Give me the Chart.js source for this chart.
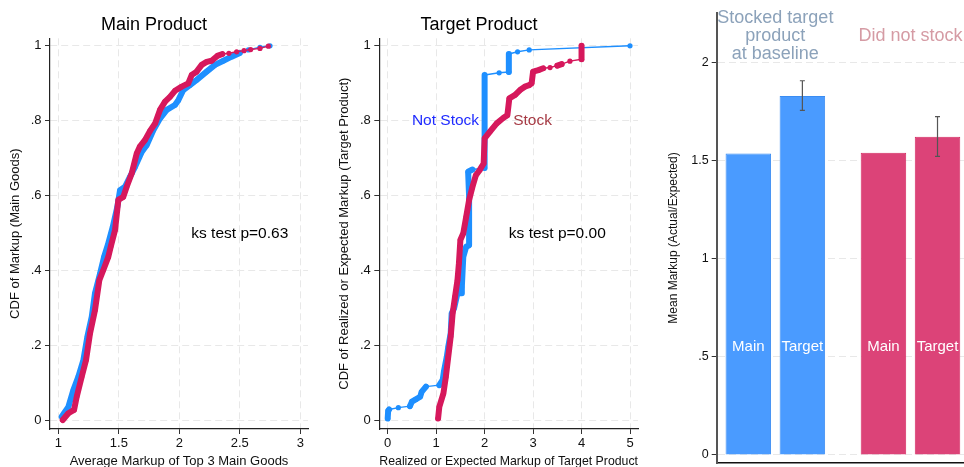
<!DOCTYPE html>
<html><head><meta charset="utf-8">
<script src="https://cdn.jsdelivr.net/npm/chart.js@4.4.1/dist/chart.umd.min.js"></script>
<style>
html,body{margin:0;padding:0;background:#fff;overflow:hidden;width:964px;height:467px;position:relative;}
canvas{position:absolute;top:0;}
</style></head><body>
<canvas id="c1" style="left:0px" width="320" height="480"></canvas>
<canvas id="c2" style="left:320px" width="330" height="480"></canvas>
<canvas id="c3" style="left:650px" width="314" height="480"></canvas>
<script>
// ---------- DATA ----------
// Panel 1: CDF of markup, main goods
const mainNotStock = [[1.028,0.011],[1.047,0.02],[1.083,0.037],[1.124,0.082],[1.165,0.117],[1.207,0.162],[1.24,0.224],[1.276,0.277],[1.303,0.34],[1.345,0.393],[1.378,0.437],[1.413,0.473],[1.45,0.517],[1.488,0.571],[1.51,0.615],[1.551,0.624],[1.593,0.651],[1.634,0.677],[1.689,0.717],[1.73,0.735],[1.785,0.775],[1.84,0.806],[1.896,0.829],[1.964,0.842],[1.992,0.855],[2.033,0.882],[2.088,0.895],[2.144,0.909],[2.226,0.931],[2.295,0.949],[2.364,0.96],[2.433,0.971],[2.50,0.981],[2.571,0.989],[2.667,0.996],[2.75,1.0]];
const mainStock = [[1.036,0.002],[1.083,0.02],[1.13,0.029],[1.152,0.064],[1.193,0.117],[1.229,0.162],[1.262,0.233],[1.303,0.295],[1.339,0.375],[1.372,0.402],[1.413,0.437],[1.433,0.464],[1.469,0.509],[1.496,0.589],[1.537,0.597],[1.565,0.624],[1.607,0.66],[1.648,0.713],[1.675,0.732],[1.717,0.749],[1.758,0.773],[1.8,0.793],[1.84,0.829],[1.882,0.851],[1.923,0.864],[1.964,0.88],[2.02,0.891],[2.074,0.9],[2.102,0.922],[2.143,0.931],[2.185,0.949],[2.226,0.957],[2.267,0.96],[2.314,0.973],[2.356,0.978],[2.41,0.98],[2.474,0.984],[2.535,0.987],[2.59,0.99],[2.667,0.993],[2.736,0.999]];
// Panel 2: CDF of markup, target product
const targetNotStock = [[0,0.006],[0.01,0.027],[0.03,0.03],[0.22,0.035],[0.46,0.039],[0.5,0.051],[0.58,0.057],[0.67,0.064],[0.7,0.077],[0.79,0.091],[1.065,0.095],[1.135,0.109],[1.16,0.131],[1.22,0.171],[1.25,0.197],[1.3,0.233],[1.32,0.286],[1.37,0.3],[1.44,0.34],[1.52,0.34],[1.53,0.357],[1.56,0.437],[1.62,0.464],[1.68,0.468],[1.68,0.597],[1.66,0.664],[1.75,0.67],[2.0,0.674],[2.0,0.922],[2.3,0.928],[2.5,0.93],[2.5,0.978],[2.68,0.984],[2.92,0.989],[5.0,1.0]];
const targetStock = [[1.04,0.006],[1.065,0.037],[1.15,0.073],[1.2,0.117],[1.25,0.171],[1.3,0.224],[1.34,0.286],[1.39,0.331],[1.44,0.375],[1.47,0.42],[1.5,0.482],[1.56,0.5],[1.62,0.544],[1.68,0.589],[1.75,0.624],[1.82,0.655],[1.9,0.669],[1.98,0.686],[2.0,0.753],[2.11,0.771],[2.25,0.793],[2.39,0.808],[2.47,0.815],[2.51,0.86],[2.63,0.869],[2.73,0.882],[2.83,0.891],[2.92,0.895],[2.97,0.9],[3.0,0.931],[3.11,0.935],[3.21,0.94],[3.35,0.942],[3.5,0.947],[3.59,0.951],[3.76,0.959],[4.0,0.964],[4.0,1.0]];
const cdfYTicks = [0, 0.2, 0.4, 0.6, 0.8, 1];
const cdfYLabels = ['0', '.2', '.4', '.6', '.8', '1'];
const mainXTicks = [1, 1.5, 2, 2.5, 3];
const mainXLabels = ['1', '1.5', '2', '2.5', '3'];
const targetXTicks = [0, 1, 2, 3, 4, 5];
const targetXLabels = ['0', '1', '2', '3', '4', '5'];
// Panel 3: mean markup bars
const barGroups = [['Stocked target', 'product', 'at baseline'], ['Did not stock']];
const barLabels = ['Main', 'Target', 'Main', 'Target'];
const barGroupOf = [0, 0, 1, 1];
const barSlots = [1, 2, 3.5, 4.5];
const barMeans = [1.536, 1.828, 1.539, 1.621];
const barCILow = [null, 1.755, null, 1.521];
const barCIHigh = [null, 1.906, null, 1.723];
const barYTicks = [0, 0.5, 1, 1.5, 2];
const barYLabels = ['0', '.5', '1', '1.5', '2'];

// ---------- STYLE ----------
const FONT = '"Liberation Sans", Arial, Helvetica, sans-serif';
Chart.defaults.font.family = FONT;
Chart.defaults.color = '#111';
const BLUE = '#1e8fff';
const RED = '#d6185c';
const GRID = '#e8e8e8';

function notes(items) {
  return {
    id: 'notes',
    afterDatasetsDraw(chart) {
      const {ctx} = chart; const xs = chart.scales.x, ys = chart.scales.y;
      items.forEach(n => {
        ctx.save();
        ctx.font = n.font; ctx.fillStyle = n.color;
        ctx.textAlign = 'center'; ctx.textBaseline = 'middle';
        const lines = Array.isArray(n.text) ? n.text : [n.text];
        const px = xs.getPixelForValue(n.x), py = ys.getPixelForValue(n.y);
        lines.forEach((t, i) => ctx.fillText(t, px, py + (i - (lines.length - 1) / 2) * (n.lh || 0)));
        ctx.restore();
      });
    }
  };
}

function segWidth(ctx) {
  const dx = Math.abs(ctx.p1.x - ctx.p0.x), dy = Math.abs(ctx.p1.y - ctx.p0.y);
  return (dx > 6 && dy < 0.4 * dx) ? 1.4 : 6;
}

function cdfDataset(pts, color, order) {
  return {
    data: pts.map(([x, y]) => ({x, y})),
    showLine: true, borderColor: color, backgroundColor: color,
    borderWidth: 6, borderCapStyle: 'round', borderJoinStyle: 'round',
    pointRadius: 2.6, pointBorderWidth: 0, pointBackgroundColor: color,
    segment: {borderWidth: segWidth}, order
  };
}

function fixedTicks(vals) { return s => { s.ticks = vals.map(v => ({value: v})); }; }

function cdfChart(id, title, xTitle, yTitle, blue, red, xMin, xMax, xTicks, xLabels, yAxisWidth, yTitlePad, texts) {
  return new Chart(document.getElementById(id), {
    type: 'scatter',
    data: {datasets: [cdfDataset(blue, BLUE, 1), cdfDataset(red, RED, 0)]},
    options: {
      responsive: false, animation: false, events: [],
      layout: {padding: {left: 0, right: 12, top: 0, bottom: 0}},
      plugins: {
        legend: {display: false}, tooltip: {enabled: false},
        title: {display: true, text: title, color: '#000', font: {size: 18, weight: 'normal'}, padding: {top: 14.2, bottom: 2.5}}
      },
      scales: {
        x: {
          type: 'linear', min: xMin, max: xMax,
          afterBuildTicks: fixedTicks(xTicks),
          afterFit: s => { s.height = 51; },
          ticks: {callback: (v, i) => xLabels[i], font: {size: 13}, color: '#111', padding: 2, autoSkip: false, maxRotation: 0},
          grid: {color: GRID, lineWidth: 1, tickColor: '#333', tickLength: 5, tickWidth: 1},
          border: {display: true, color: '#222', width: 1.2, dash: [7, 4]},
          title: {display: true, text: xTitle, color: '#111', font: {size: 13}, padding: {top: 0, bottom: 10.5}}
        },
        y: {
          type: 'linear', min: -0.022, max: 1.02,
          afterBuildTicks: fixedTicks(cdfYTicks),
          afterFit: s => { s.width = yAxisWidth; },
          ticks: {callback: (v, i) => cdfYLabels[i], font: {size: 13}, color: '#111', padding: 3.5},
          grid: {color: GRID, lineWidth: 1, tickColor: '#333', tickLength: 5, tickWidth: 1},
          border: {display: true, color: '#222', width: 1.2, dash: [7, 4]},
          title: {display: true, text: yTitle, color: '#111', font: {size: 13}, padding: {top: yTitlePad, bottom: 0}}
        }
      }
    },
    plugins: [notes(texts)]
  });
}

cdfChart('c1', 'Main Product', 'Average Markup of Top 3 Main Goods', 'CDF of Markup (Main Goods)',
  mainNotStock, mainStock, 0.931, 3.064, mainXTicks, mainXLabels, 50, 7.2,
  [{x: 2.5, y: 0.5, text: 'ks test p=0.63', color: '#000', font: '15.5px ' + FONT}]);

cdfChart('c2', 'Target Product', 'Realized or Expected Markup of Target Product', 'CDF of Realized or Expected Markup (Target Product)',
  targetNotStock, targetStock, -0.173, 5.165, targetXTicks, targetXLabels, 59.3, 16.2,
  [{x: 3.5, y: 0.5, text: 'ks test p=0.00', color: '#000', font: '15.5px ' + FONT},
   {x: 1.193, y: 0.8, text: 'Not Stock', color: '#1f2bff', font: '15.5px ' + FONT},
   {x: 2.99, y: 0.8, text: 'Stock', color: '#a63a44', font: '15.5px ' + FONT}]);

// ---------- BAR PANEL ----------
const groupFill = ['#4a9bff', '#dc4378'];
const groupEdge = ['#3a8cf2', '#d42a62'];
const groupText = ['#8ca2ba', '#d59ba4'];

const errorBars = {
  id: 'errorBars',
  afterDatasetsDraw(chart) {
    const {ctx} = chart; const xs = chart.scales.x, ys = chart.scales.y;
    ctx.save();
    ctx.strokeStyle = '#555'; ctx.lineWidth = 1.2;
    barSlots.forEach((s, i) => {
      if (barCILow[i] == null) return;
      const px = xs.getPixelForValue(s), y1 = ys.getPixelForValue(barCILow[i]), y2 = ys.getPixelForValue(barCIHigh[i]);
      ctx.beginPath();
      ctx.moveTo(px, y1); ctx.lineTo(px, y2);
      ctx.moveTo(px - 2.5, y1); ctx.lineTo(px + 2.5, y1);
      ctx.moveTo(px - 2.5, y2); ctx.lineTo(px + 2.5, y2);
      ctx.stroke();
    });
    ctx.restore();
  }
};

const barTexts = barLabels.map((t, i) => ({x: barSlots[i], y: 0.55, text: t, color: '#fff', font: '15px ' + FONT}))
  .concat([
    {x: 1.5, y: 2.133, text: barGroups[0], color: groupText[0], font: '18px ' + FONT, lh: 18.3},
    {x: 4.0, y: 2.136, text: barGroups[1], color: groupText[1], font: '18px ' + FONT, lh: 18.3}
  ]);

new Chart(document.getElementById('c3'), {
  type: 'bar',
  data: {
    datasets: [{
      data: barSlots.map((s, i) => ({x: s, y: barMeans[i]})),
      backgroundColor: barGroupOf.map(g => groupFill[g]),
      borderColor: barGroupOf.map(g => groupEdge[g]),
      borderWidth: 1,
      categoryPercentage: 1, barPercentage: 0.842
    }]
  },
  options: {
    responsive: false, animation: false, events: [],
    layout: {padding: {left: 0, right: 0, top: 13, bottom: 0}},
    plugins: {legend: {display: false}, tooltip: {enabled: false}, title: {display: false}},
    scales: {
      x: {
        type: 'linear', min: 0.415, max: 4.99, offset: false,
        afterBuildTicks: fixedTicks(barSlots),
        afterFit: s => { s.height = 17; },
        ticks: {display: false},
        grid: {display: false, offset: false},
        border: {display: true, color: '#111', width: 1.5}
      },
      y: {
        type: 'linear', min: -0.041, max: 2.251,
        afterBuildTicks: fixedTicks(barYTicks),
        afterFit: s => { s.width = 66.7; },
        ticks: {callback: (v, i) => barYLabels[i], font: {size: 12.5}, color: '#111', padding: 3},
        grid: {color: GRID, lineWidth: 1, tickColor: '#333', tickLength: 5, tickWidth: 1},
        border: {display: true, color: '#555', width: 2, dash: [7, 4]},
        title: {display: true, text: 'Mean Markup (Actual/Expected)', color: '#111', font: {size: 12}, padding: {top: 16.8, bottom: 0}}
      }
    }
  },
  plugins: [errorBars, notes(barTexts)]
});
</script></body></html>
